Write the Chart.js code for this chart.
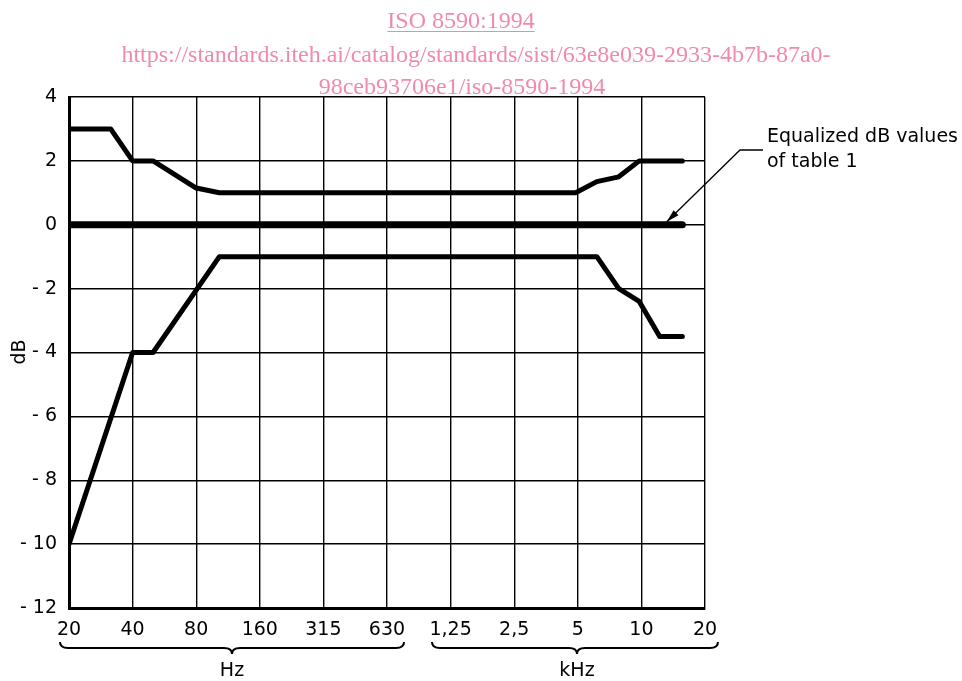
<!DOCTYPE html>
<html>
<head>
<meta charset="utf-8">
<script src="https://cdn.jsdelivr.net/npm/chart.js@4.4.1/dist/chart.umd.min.js"></script>
<style>
  html, body { margin: 0; padding: 0; background: #fff; }
  #wrap { width: 962px; height: 681px; }
</style>
</head>
<body>
<div id="wrap"><canvas id="chart" width="962" height="681"></canvas></div>
<script>
// octave tick labels (20 Hz ... 20 kHz)
const octaveLabels = ['20', '40', '80', '160', '315', '630', '1,25', '2,5', '5', '10', '20'];
const yTicks = [4, 2, 0, -2, -4, -6, -8, -10, -12];

// upper tolerance curve (Hz, dB)
const upperFreq = [20, 31.5, 40, 50, 80, 103, 5000, 6300, 8000, 10000, 16000];
const upperDb = [3, 3, 2, 2, 1.15, 1, 1, 1.35, 1.5, 2, 2];

// lower tolerance curve (Hz, dB)
const lowerFreq = [20, 40, 50, 103, 6300, 8000, 10000, 12500, 16000];
const lowerDb = [-10, -4, -4, -1, -1, -2, -2.4, -3.5, -3.5];

// equalized values line
const zeroFreq = [20, 16000];
const zeroDb = [0, 0];

const FONT = '"DejaVu Sans", sans-serif';

// x axis is in octaves above 20 Hz
function toPoints(freqs, vals) {
  return freqs.map((f, i) => ({ x: Math.log2(f / 20), y: vals[i] }));
}

function brace(ctx, x1, x2, xm, y) {
  ctx.beginPath();
  ctx.moveTo(x1, y - 6);
  ctx.quadraticCurveTo(x1, y, x1 + 8, y);
  ctx.lineTo(xm - 8, y);
  ctx.quadraticCurveTo(xm, y, xm, y + 6);
  ctx.quadraticCurveTo(xm, y, xm + 8, y);
  ctx.lineTo(x2 - 8, y);
  ctx.quadraticCurveTo(x2, y, x2, y - 6);
  ctx.stroke();
}

const extras = {
  id: 'extras',
  afterDraw(chart) {
    const ctx = chart.ctx;
    const xs = chart.scales.x, ys = chart.scales.y;
    ctx.save();
    ctx.strokeStyle = '#000';
    ctx.fillStyle = '#000';

    // braces under the frequency labels
    ctx.lineWidth = 2;
    brace(ctx, 60, 404, 232, 648);
    brace(ctx, 432, 718, 577, 648);
    ctx.font = '19px ' + FONT;
    ctx.textAlign = 'center';
    ctx.textBaseline = 'alphabetic';
    ctx.fillText('Hz', 232, 676);
    ctx.fillText('kHz', 577, 676);

    // y title
    ctx.save();
    ctx.translate(25, 352);
    ctx.rotate(-Math.PI / 2);
    ctx.fillText('dB', 0, 0);
    ctx.restore();

    // annotation
    ctx.textAlign = 'left';
    ctx.fillText('Equalized dB values', 767, 142);
    ctx.fillText('of table 1', 767, 167);

    const tipX = xs.getPixelForValue(Math.log2(13500 / 20));
    const tipY = ys.getPixelForValue(0) - 3;
    ctx.lineWidth = 1.3;
    ctx.beginPath();
    ctx.moveTo(763, 150);
    ctx.lineTo(740, 150);
    ctx.lineTo(tipX, tipY);
    ctx.stroke();
    const ang = Math.atan2(tipY - 150, tipX - 740);
    ctx.beginPath();
    ctx.moveTo(tipX, tipY);
    ctx.lineTo(tipX - 13 * Math.cos(ang) + 3.5 * Math.sin(ang), tipY - 13 * Math.sin(ang) - 3.5 * Math.cos(ang));
    ctx.lineTo(tipX - 13 * Math.cos(ang) - 3.5 * Math.sin(ang), tipY - 13 * Math.sin(ang) + 3.5 * Math.cos(ang));
    ctx.closePath();
    ctx.fill();

    // pink catalogue watermark
    ctx.fillStyle = '#f08aab';
    ctx.strokeStyle = '#f08aab';
    ctx.textAlign = 'center';
    ctx.font = '24px "Liberation Serif", serif';
    ctx.fillText('ISO 8590:1994', 461, 28);
    const w = ctx.measureText('ISO 8590:1994').width;
    ctx.lineWidth = 1.2;
    ctx.beginPath();
    ctx.moveTo(461 - w / 2, 31.5);
    ctx.lineTo(461 + w / 2, 31.5);
    ctx.stroke();
    ctx.fillText('https://standards.iteh.ai/catalog/standards/sist/63e8e039-2933-4b7b-87a0-', 476, 62);
    ctx.fillText('98ceb93706e1/iso-8590-1994', 462, 94);
    ctx.restore();
  }
};

new Chart(document.getElementById('chart'), {
  type: 'line',
  data: {
    datasets: [
      { data: toPoints(upperFreq, upperDb), borderColor: '#000', borderWidth: 5 },
      { data: toPoints(zeroFreq, zeroDb), borderColor: '#000', borderWidth: 7, borderCapStyle: 'round' },
      { data: toPoints(lowerFreq, lowerDb), borderColor: '#000', borderWidth: 5 }
    ]
  },
  options: {
    responsive: false,
    animation: false,
    events: [],
    elements: {
      point: { radius: 0 },
      line: { tension: 0, borderJoinStyle: 'round', borderCapStyle: 'round', fill: false }
    },
    layout: { padding: { left: 0, top: 97, right: 257, bottom: 0 } },
    plugins: { legend: { display: false }, tooltip: { enabled: false } },
    scales: {
      x: {
        type: 'linear',
        min: 0,
        max: 10,
        afterFit(scale) { scale.height = 73; },
        afterBuildTicks(scale) { scale.ticks = octaveLabels.map((_, i) => ({ value: i })); },
        ticks: {
          autoSkip: false,
          maxRotation: 0,
          padding: 11,
          color: '#000',
          font: { family: FONT, size: 19 },
          callback: (v) => octaveLabels[v]
        },
        grid: { color: '#000', lineWidth: 1.4, drawTicks: false },
        border: { display: true, color: '#000', width: 3 }
      },
      y: {
        min: -12,
        max: 4,
        afterFit(scale) { scale.width = 69; },
        afterBuildTicks(scale) { scale.ticks = yTicks.map(v => ({ value: v })); },
        ticks: {
          padding: 12,
          color: '#000',
          font: { family: FONT, size: 19 },
          callback: (v) => v < 0 ? '- ' + Math.abs(v) : String(v)
        },
        grid: { color: '#000', lineWidth: 1.4, drawTicks: false },
        border: { display: true, color: '#000', width: 3 }
      }
    }
  },
  plugins: [extras]
});
</script>
</body>
</html>
